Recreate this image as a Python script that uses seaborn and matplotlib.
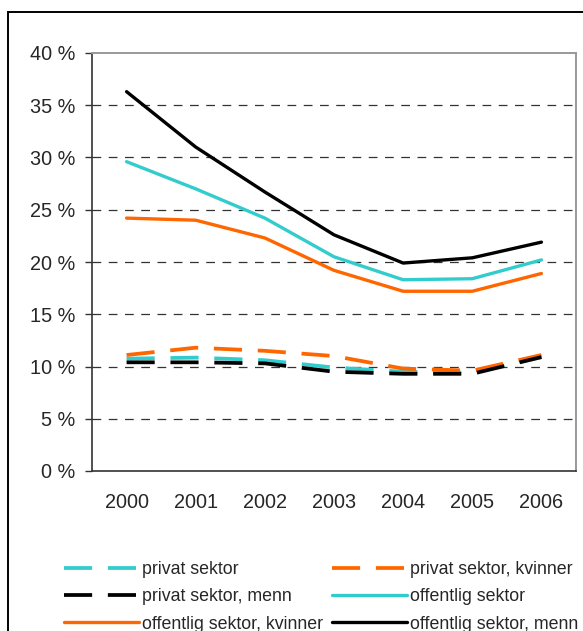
"""Andel ansatte (privat / offentlig sektor) 2000-2006, linjediagram."""
import matplotlib

matplotlib.use("Agg")
import matplotlib.pyplot as plt
import pandas as pd
import seaborn as sns
from matplotlib.patches import Rectangle
from matplotlib.ticker import FixedLocator, FuncFormatter

years = ["2000", "2001", "2002", "2003", "2004", "2005", "2006"]

privat = [10.75, 10.85, 10.6, 9.9, 9.5, 9.4, 10.9]
privat_kvinner = [11.1, 11.8, 11.5, 11.0, 9.8, 9.6, 11.1]
privat_menn = [10.4, 10.4, 10.3, 9.5, 9.3, 9.3, 10.9]
offentlig = [29.6, 27.0, 24.2, 20.5, 18.3, 18.4, 20.2]
offentlig_kvinner = [24.2, 24.0, 22.3, 19.2, 17.2, 17.2, 18.9]
offentlig_menn = [36.3, 31.0, 26.7, 22.6, 19.9, 20.4, 21.9]

labels = [
    "privat sektor",
    "privat sektor, kvinner",
    "privat sektor, menn",
    "offentlig sektor",
    "offentlig sektor, kvinner",
    "offentlig sektor, menn",
]
values = [privat, privat_kvinner, privat_menn, offentlig, offentlig_kvinner, offentlig_menn]
colors = ["#33CCCC", "#FF6600", "#000000", "#33CCCC", "#FF6600", "#000000"]
dashed = [True, True, True, False, False, False]

sns.set_style("white")
plt.rcParams["font.family"] = ["Liberation Sans", "DejaVu Sans"]

df = pd.DataFrame(
    [(lab, i, v) for lab, vals in zip(labels, values) for i, v in enumerate(vals)],
    columns=["serie", "x", "verdi"],
)

fig = plt.figure(figsize=(5.83, 6.31), dpi=100)
ax = fig.add_axes([92 / 583, 1 - 471 / 631, (576 - 92) / 583, (471 - 53) / 631])

handles = {}
for lab, col, dsh in zip(labels, colors, dashed):
    sub = df[df["serie"] == lab]
    ls = (0, (7.5, 4.2)) if dsh else "-"
    lw = 2.7 if dsh else 2.4
    sns.lineplot(data=sub, x="x", y="verdi", color=col, linewidth=lw,
                 linestyle=ls, ax=ax, label=lab, legend=False)
    handles[lab] = ax.lines[-1]

ax.set_xlim(-0.5, 6.5)
ax.set_ylim(0, 40)
ax.set_xlabel("")
ax.set_ylabel("")

# y axis: percent ticks with dashed grid
ax.yaxis.set_major_locator(FixedLocator(range(0, 41, 5)))
ax.yaxis.set_major_formatter(FuncFormatter(lambda v, p: f"{int(v)} %"))
for yv in range(5, 40, 5):
    ax.axhline(yv, color="#333333", lw=0.9, ls=(0, (7, 6)), zorder=0)

# x axis: labels centred, tick marks on category boundaries
ax.xaxis.set_major_locator(FixedLocator(range(len(years))))
ax.set_xticklabels(years)
ax.xaxis.set_minor_locator(FixedLocator([i - 0.5 for i in range(len(years) + 1)]))
ax.tick_params(axis="x", which="major", length=0, pad=16, labelsize=14.3)
ax.tick_params(axis="x", which="minor", length=5, width=1, color="#333333", direction="out")
ax.tick_params(axis="y", which="major", length=5, width=1, color="#333333",
               direction="out", pad=7, labelsize=14.3, left=True)

for side in ["left", "bottom"]:
    ax.spines[side].set_color("#333333")
    ax.spines[side].set_linewidth(1.2)
for side in ["top", "right"]:
    ax.spines[side].set_visible(True)
    ax.spines[side].set_color("#999999")
    ax.spines[side].set_linewidth(1.4)

# legend row-wise in two columns
order = [labels[0], labels[2], labels[4], labels[1], labels[3], labels[5]]
fig.legend([handles[l] for l in order], order, ncol=2, frameon=False,
           loc="upper left", bbox_to_anchor=(64 / 583, 1 - 561 / 631),
           fontsize=12.8, handlelength=4.2, handletextpad=0.2,
           columnspacing=0.5, labelspacing=0.58, borderpad=0, borderaxespad=0)

# chart frame (cropped on the right / bottom)
fig.patches.append(Rectangle((8 / 583, -0.2), 1.2, 1.2 - 12 / 631,
                             transform=fig.transFigure, fill=False,
                             edgecolor="black", lw=1.4))

fig.savefig("out.png", dpi=100)
plt.close(fig)
